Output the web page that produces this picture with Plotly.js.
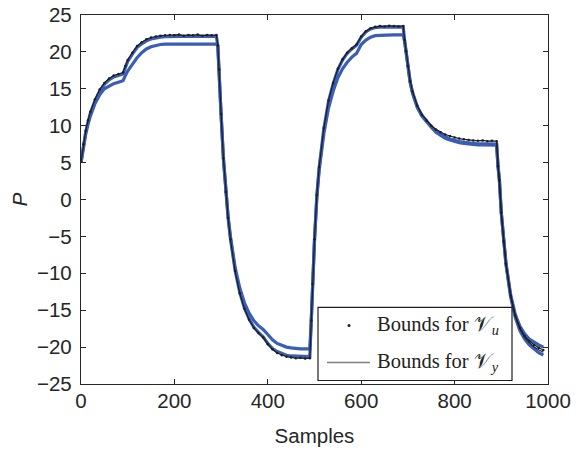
<!DOCTYPE html>
<html>
<head>
<meta charset="utf-8">
<script src="https://cdn.plot.ly/plotly-3.0.1.min.js"></script>
<style>html,body{margin:0;padding:0;background:#fff;}#chart{width:585px;height:450px;}</style>
</head>
<body>
<div id="chart"></div>
<script>
// sample positions
var samples = [0,5,10,15,20,30,40,50,60,70,80,90,95,100,110,120,130,140,150,160,170,180,190,200,210,220,230,240,250,260,270,280,290,
293,296,300,305,310,315,320,330,340,350,360,370,380,390,400,410,420,430,440,450,460,470,480,490,
493,496,500,505,510,520,530,540,550,560,570,580,590,600,610,620,630,640,650,660,670,680,690,
693,696,700,705,710,720,730,740,750,760,770,780,790,800,810,820,830,840,850,860,870,880,890,
893,896,900,905,910,920,930,940,950,960,970,980,990];

// bounds for V_y (blue), upper and lower
var vyUpper = [5.0,7.3,9.1,10.5,11.7,13.4,14.7,15.6,16.2,16.6,16.8,17.0,17.9,18.7,19.7,20.6,21.1,21.5,21.75,21.9,22.0,22.05,22.1,22.1,22.1,22.1,22.1,22.1,22.1,22.1,22.1,22.1,22.1,
20.8,17.5,11.5,5.5,1.0,-2.3,-5.0,-9.2,-12.0,-14.0,-15.4,-16.4,-17.1,-17.6,-18.3,-19.0,-19.5,-19.8,-20.0,-20.1,-20.2,-20.25,-20.25,-20.25,
-16.5,-11.5,-5.5,0.5,4.3,9.6,13.3,15.7,17.6,18.9,19.8,20.4,20.9,22.0,22.7,23.1,23.3,23.35,23.35,23.35,23.35,23.35,23.35,
21.5,20.0,18.0,15.9,14.5,12.6,11.4,10.6,9.9,9.3,8.85,8.5,8.2,8.0,7.85,7.75,7.65,7.6,7.55,7.55,7.5,7.5,7.5,
4.5,2.6,-1.8,-5.6,-8.6,-12.9,-15.6,-17.2,-18.2,-18.9,-19.35,-19.7,-20.0];

var vyLower = [5.0,7.2,8.8,10.2,11.3,13.0,14.2,15.0,15.4,15.7,15.9,16.1,16.8,17.4,18.3,19.2,19.9,20.4,20.7,20.9,21.0,21.05,21.05,21.05,21.05,21.05,21.05,21.05,21.05,21.05,21.05,21.05,21.05,
20.8,17.5,11.5,5.5,1.0,-2.5,-5.3,-9.6,-12.6,-14.7,-16.2,-17.3,-18.0,-18.6,-19.5,-20.2,-20.6,-20.9,-21.1,-21.2,-21.25,-21.3,-21.3,-21.3,
-16.5,-11.5,-5.5,0.3,4.0,8.9,12.4,14.7,16.5,17.7,18.6,19.3,19.8,21.0,21.6,22.0,22.2,22.25,22.3,22.3,22.3,22.3,22.3,
21.4,19.9,17.9,15.8,14.4,12.5,11.3,10.5,9.8,9.1,8.65,8.3,8.05,7.85,7.7,7.6,7.5,7.45,7.4,7.4,7.35,7.35,7.35,
4.5,2.6,-1.8,-5.7,-8.8,-13.2,-16.0,-17.8,-18.9,-19.7,-20.3,-20.75,-21.1];

// bounds for V_u (black dots)
var vuA = [5.1,7.5,9.3,10.7,11.9,13.6,14.9,15.8,16.4,16.8,17.0,17.2,18.1,18.9,19.9,20.8,21.3,21.7,21.95,22.1,22.2,22.25,22.3,22.25,22.35,22.2,22.3,22.25,22.35,22.2,22.3,22.25,22.3,
20.9,17.6,11.6,5.6,1.0,-2.5,-5.4,-9.7,-12.7,-14.8,-16.3,-17.4,-18.1,-18.7,-19.6,-20.3,-20.8,-21.1,-21.3,-21.4,-21.5,-21.45,-21.55,-21.5,
-16.4,-11.4,-5.4,0.6,4.4,9.7,13.4,15.8,17.7,19.0,19.9,20.5,21.0,22.1,22.8,23.2,23.4,23.5,23.45,23.55,23.5,23.45,23.5,
21.6,20.1,18.1,16.0,14.6,12.7,11.5,10.7,10.0,9.5,9.1,8.8,8.6,8.4,8.25,8.15,8.05,8.0,7.95,8.0,7.9,7.95,7.9,
4.5,2.6,-1.8,-5.65,-8.7,-13.0,-15.75,-17.4,-18.5,-19.2,-19.7,-20.1,-20.4];

var tailSamples = [890,893,896,900,905,910,920,930,940,950,960,970,980,990];
var vuB = [7.85,4.5,2.6,-1.8,-5.65,-8.7,-13.05,-15.85,-17.55,-18.65,-19.4,-19.95,-20.35,-20.7];

var xTicks = [0,200,400,600,800,1000];
var yTicks = [-25,-20,-15,-10,-5,0,5,10,15,20,25];
var legendLabels = ['Bounds for 𝒱<sub><i>u</i></sub>', 'Bounds for 𝒱<sub><i>y</i></sub>'];

var blue = '#3a5db5';
var black = '#1e1e1e';

var traces = [
  {x: samples, y: vyUpper, mode: 'lines', line: {color: blue, width: 3.2}, showlegend: false},
  {x: samples, y: vyLower, mode: 'lines', line: {color: blue, width: 3.2}, showlegend: false},
  {x: samples, y: vuA, mode: 'lines+markers', line: {color: black, width: 1.2}, marker: {color: black, size: 2.5}, showlegend: false},
  {x: tailSamples, y: vuB, mode: 'lines', line: {color: black, width: 1.2}, showlegend: false}
];

var tickFont = {family: 'Liberation Sans, Arial, sans-serif', size: 20.5, color: '#262626'};

var axisCommon = {
  showline: true, linecolor: '#262626', linewidth: 1.2, mirror: 'ticks',
  ticks: 'inside', ticklen: 5, tickwidth: 1, tickcolor: '#262626',
  showgrid: false, zeroline: false,
  tickfont: tickFont
};

var layout = {
  width: 585, height: 450,
  margin: {l: 81, r: 37, t: 15, b: 66},
  paper_bgcolor: '#fff', plot_bgcolor: '#fff',
  showlegend: false,
  xaxis: Object.assign({}, axisCommon, {
    range: [0, 1000], tickvals: xTicks, ticktext: xTicks.map(String),
    ticklabelstandoff: -2,
    title: {text: 'Samples', font: tickFont, standoff: 17}
  }),
  yaxis: Object.assign({}, axisCommon, {
    range: [-25, 25], tickvals: yTicks, ticktext: yTicks.map(function(v){return v < 0 ? '\u2212' + Math.abs(v) : String(v);}),
    ticklabelstandoff: 4,
    title: {text: '<i>P</i>', font: tickFont, standoff: 3}
  }),
  shapes: [
    {type: 'rect', xref: 'paper', yref: 'paper', x0: 0.5075, x1: 0.9229, y0: 0.0095, y1: 0.2076,
     line: {color: '#1e1e1e', width: 1.2}, fillcolor: '#fff', layer: 'above'},
    {type: 'line', xref: 'paper', yref: 'paper', x0: 0.5268, x1: 0.6188, y0: 0.0583, y1: 0.0583,
     line: {color: '#808080', width: 1.3}},
    {type: 'circle', xref: 'paper', yref: 'paper', x0: 0.5739 - 0.0032, x1: 0.5739 + 0.0032, y0: 0.1588 - 0.0041, y1: 0.1588 + 0.0041,
     line: {color: '#1e1e1e', width: 0}, fillcolor: '#1e1e1e'}
  ],
  annotations: [
    {xref: 'paper', yref: 'paper', x: 0.6296, y: 0.1588, xanchor: 'left', yanchor: 'middle', showarrow: false,
     text: legendLabels[0], font: {family: 'Liberation Serif, DejaVu Serif, serif', size: 20.5, color: '#222'}},
    {xref: 'paper', yref: 'paper', x: 0.6296, y: 0.0583, xanchor: 'left', yanchor: 'middle', showarrow: false,
     text: legendLabels[1], font: {family: 'Liberation Serif, DejaVu Serif, serif', size: 20.5, color: '#222'}}
  ]
};

Plotly.newPlot('chart', traces, layout, {displayModeBar: false, staticPlot: true});
</script>
</body>
</html>
